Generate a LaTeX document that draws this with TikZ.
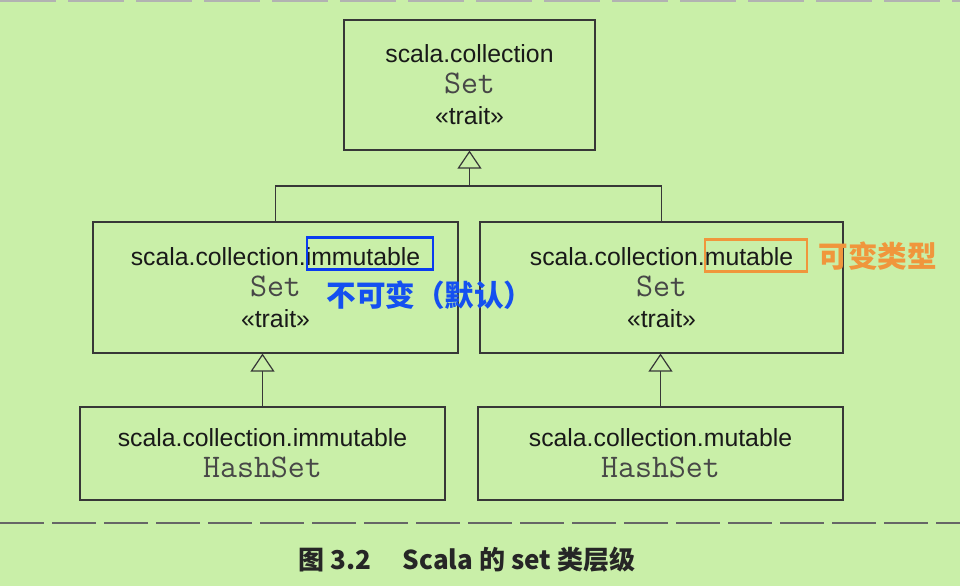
\documentclass[tikz,border=0pt]{standalone}
\usepackage{fontspec}
\setmainfont{Liberation Sans}
\newfontfamily\cjk{Noto Sans CJK SC}
\usetikzlibrary{arrows.meta}
\definecolor{bggreen}{RGB}{201,239,168}
\definecolor{framegray}{RGB}{55,55,55}
\definecolor{markblue}{RGB}{10,60,240}
\definecolor{noteblue}{RGB}{20,80,240}
\definecolor{markorange}{RGB}{240,150,60}
\tikzstyle{cls} = [draw=framegray, line width=0.6pt, align=center, inner sep=0pt, text=black!90, font=\fontsize{12.4}{15.5}\selectfont]
\tikzstyle{link} = [draw=framegray, line width=0.6pt]
\tikzstyle{inherit} = [link, -{Triangle[open, width=12pt, length=9pt, line width=0.6pt]}]
\tikzstyle{markbox} = [line width=1.1pt, inner sep=0pt, minimum height=16pt]
\tikzstyle{note} = [font=\cjk\bfseries\fontsize{14.8}{16}\selectfont, inner sep=0pt, anchor=west]
\newcommand{\tname}[1]{{\fontsize{16.5}{15.5}\selectfont\ttfamily\color{black!72}#1}}

\begin{document}
\begin{tikzpicture}[x=0.5pt, y=-0.5pt]
	\useasboundingbox (0,0) rectangle (960,586);
	\fill[bggreen] (0,0) rectangle (960,586);
	\draw[gray!60, line width=0.8pt, dash pattern=on 28pt off 6pt] (0,1) -- (960,1);

	% class boxes
	\node[cls, minimum width=125.5pt, minimum height=65pt] (coll) at (469.5,85) {scala.collection\\ \tname{Set}\\ «trait»};
	\node[cls, minimum width=182.5pt, minimum height=65.5pt] (imm) at (275.5,287.5) {scala.collection.immutable\\ \tname{Set}\\ «trait»};
	\node[cls, minimum width=181.5pt, minimum height=65.5pt] (mut) at (661.5,287.5) {scala.collection.mutable\\ \tname{Set}\\ «trait»};
	\node[cls, minimum width=182.5pt, minimum height=46.5pt] (immhash) at (262.5,453.5) {scala.collection.immutable\\ \tname{HashSet}};
	\node[cls, minimum width=182.5pt, minimum height=46.5pt] (muthash) at (660.5,453.5) {scala.collection.mutable\\ \tname{HashSet}};
	\coordinate (fork) at (469.5,186);

	% inheritance
	\draw[link] (imm.north) |- (fork) -| (mut.north);
	\draw[inherit] (fork) -- (coll.south);
	\draw[inherit] (immhash.north) -- (immhash.north |- imm.south);
	\draw[inherit] (muthash.north) -- (muthash.north |- mut.south);

	% notes
	\node[markbox, draw=markblue, minimum width=63pt] (immmark) at (370,253.5) {};
	\node[markbox, draw=markorange, minimum width=51pt] (mutmark) at (756,255.5) {};
	\node[note, text=noteblue] (immnote) at (326,295) {不可变（默认）};
	\node[note, text=markorange] (mutnote) at (818,256) {可变类型};

	\draw[gray!80!black, line width=0.8pt, dash pattern=on 22pt off 4pt] (0,523) -- (960,523);
	\node[font=\cjk\bfseries\fontsize{13}{15}\selectfont, text=black!85] (caption) at (467,560) {图 3.2\hspace{1.2em}Scala 的 set 类层级};
\end{tikzpicture}
\end{document}
